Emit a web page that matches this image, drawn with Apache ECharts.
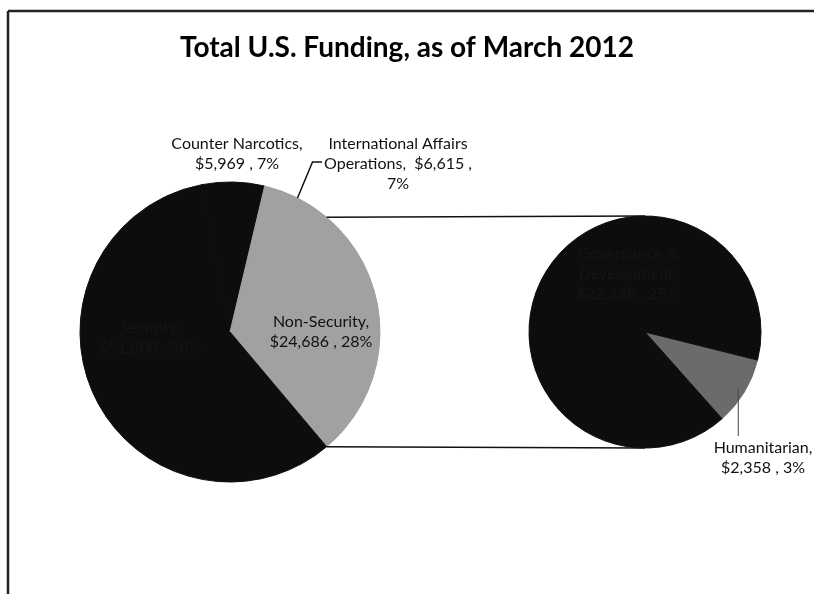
<!DOCTYPE html>
<html><head><meta charset="utf-8">
<script src="https://cdn.jsdelivr.net/npm/echarts@6/dist/echarts.min.js"></script>
<style>html,body{margin:0;padding:0;background:#fff}#c{width:814px;height:594px}</style>
</head><body><div id="c"></div>
<script>
// ---- data ----
const chartTitle = 'Total U.S. Funding, as of March 2012';
const mainNames = ['Non-Security', 'Security', 'Counter Narcotics', 'International Affairs Operations'];
const mainValues = [24686, 51800, 5969, 6615];
const splitNames = ['Humanitarian', 'Governance & Development'];
const splitValues = [2358, 22328];

// ---- style / layout ----
const mainColors = ['#a1a1a1', '#0d0d0d', '#0d0d0d', '#a1a1a1'];
const splitColors = ['#6b6b6b', '#0d0d0d'];
const labelColors = {'Security': '#151515', 'Governance & Development': '#151515'};
const nameLines = {'International Affairs Operations': 'International Affairs\nOperations', 'Governance & Development': 'Governance &\nDevelopment'};
const labelPos = {
  'Non-Security': [321, 332],
  'Security': [150, 338],
  'Counter Narcotics': [237, 154],
  'International Affairs Operations': [398, 164],
  'Humanitarian': [763, 458],
  'Governance & Development': [628, 274]
};
const c1 = [230, 332], r1 = 150;
const c2 = [645, 332], r2 = 116;
const splitStartAngle = -14;

const total = mainValues.reduce((a, b) => a + b, 0);
const fmtNum = v => '$' + v.toLocaleString('en-US');
function labelText(name, value) {
  const n = nameLines[name] || name;
  const p = Math.round(value / total * 100) + '%';
  if (name === 'International Affairs Operations') return n + ',  ' + fmtNum(value) + ' ,\n' + p;
  return n + ',\n' + fmtNum(value) + ' , ' + p;
}
const mainStart = mainValues[0] / total * 180; // centre the split slice at 3 o'clock

function pt(c, r, compassDeg) {
  const a = compassDeg * Math.PI / 180;
  return [c[0] + r * Math.sin(a), c[1] - r * Math.cos(a)];
}
function sliceAngles(values, startMath) {
  const sum = values.reduce((a, b) => a + b, 0);
  let cur = 90 - startMath;
  return values.map(v => { const s = cur; cur += v / sum * 360; return [s, cur]; });
}
const mainAng = sliceAngles(mainValues, mainStart);
const splitAng = sliceAngles(splitValues, splitStartAngle);

const topP = pt(c1, r1, mainAng[0][0]);
const botP = pt(c1, r1, mainAng[0][1]);
const iaoMid = (mainAng[3][0] + mainAng[3][1]) / 2;
const iaoAnchor = pt(c1, r1, iaoMid);
const humMid = (splitAng[0][0] + splitAng[0][1]) / 2;
const humAnchor = pt(c2, r2 * 0.94, humMid);

const labelBase = {fontFamily: 'Lato', fontSize: 16, lineHeight: 20, color: '#111'};

function mkData(names, values, colors) {
  return names.map((n, i) => ({
    name: n, value: values[i],
    itemStyle: {color: colors[i], borderColor: colors[i], borderWidth: 1},
    label: Object.assign({}, labelBase, {color: labelColors[n] || '#111'})
  }));
}
function mkLayout(names) {
  return function (params) {
    const p = labelPos[names[params.dataIndex]];
    return {x: p[0], y: p[1], align: 'center', verticalAlign: 'middle'};
  };
}

const chart = echarts.init(document.getElementById('c'), null, {renderer: 'canvas'});
const lineStyle = {stroke: '#111', lineWidth: 1.5, fill: null};
chart.setOption({
  animation: false,
  backgroundColor: '#fff',
  title: {
    text: chartTitle, left: 'center', top: 29,
    textStyle: {fontFamily: 'Lato', fontWeight: 'bold', fontSize: 28, color: '#000'}
  },
  series: [
    {
      type: 'pie', silent: true, center: c1, radius: r1,
      startAngle: mainStart, clockwise: true,
      data: mkData(mainNames, mainValues, mainColors),
      label: {show: true, position: 'inside', formatter: p => labelText(p.name, p.value)},
      labelLine: {show: false},
      labelLayout: mkLayout(mainNames),
      emphasis: {disabled: true}
    },
    {
      type: 'pie', silent: true, center: c2, radius: r2,
      startAngle: splitStartAngle, clockwise: true,
      data: mkData(splitNames, splitValues, splitColors),
      label: {show: true, position: 'inside', formatter: p => labelText(p.name, p.value)},
      labelLine: {show: false},
      labelLayout: mkLayout(splitNames),
      emphasis: {disabled: true}
    }
  ],
  graphic: [
    {type: 'line', z: 100, shape: {x1: 8, y1: 11, x2: 814, y2: 11}, style: {stroke: '#222', lineWidth: 2.5}},
    {type: 'line', z: 100, shape: {x1: 8, y1: 11, x2: 8, y2: 594}, style: {stroke: '#222', lineWidth: 2.5}},
    {type: 'line', z: 100, shape: {x1: topP[0], y1: topP[1], x2: c2[0], y2: c2[1] - r2}, style: lineStyle},
    {type: 'line', z: 100, shape: {x1: botP[0], y1: botP[1], x2: c2[0], y2: c2[1] + r2}, style: lineStyle},
    {type: 'polyline', z: 100, shape: {points: [iaoAnchor, [iaoAnchor[0] + 15, 162], [322, 162]]}, style: lineStyle},
    {type: 'polyline', z: 100, shape: {points: [humAnchor, [humAnchor[0], 436]]}, style: {stroke: '#444', lineWidth: 1, fill: null}}
  ]
});
</script>
</body></html>
